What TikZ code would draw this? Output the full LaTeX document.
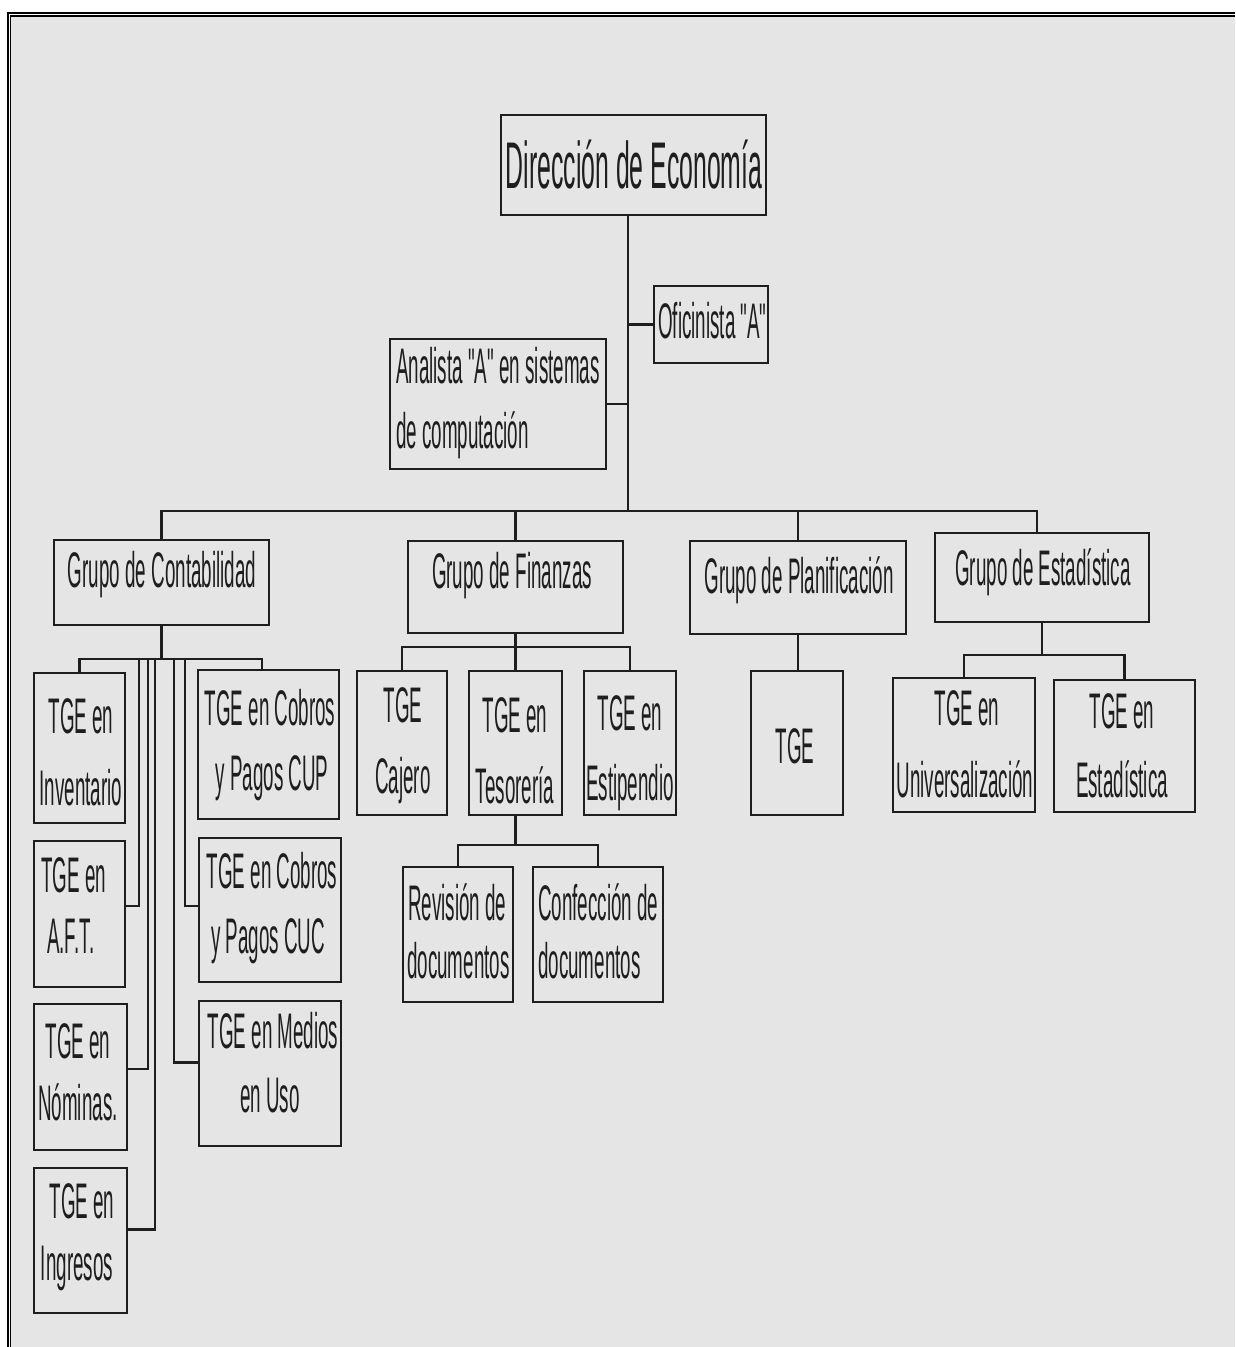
\documentclass[tikz,border=0pt]{standalone}
\usepackage{fontspec}
\setmainfont{Liberation Sans}[FakeStretch=0.376, Ligatures=TeXOff]
\definecolor{bg}{HTML}{E5E5E5}
\definecolor{ink}{HTML}{1E1E1E}
\tikzset{
  box/.style={draw=ink, line width=2.6pt, rectangle, inner sep=0pt, outer sep=0pt},
  conn/.style={draw=ink, line width=2.2pt},
  txt/.style={text=ink, inner sep=0pt, font=\fontsize{50}{50}\selectfont},
  ttl/.style={text=ink, inner sep=0pt, font=\fontsize{66}{66}\selectfont}
}
\newcommand\bx[5]{\node[box, minimum width={(#4)-(#2)}, minimum height={(#5)-(#3)}] (#1) at ({((#2)+(#4))/2},{((#3)+(#5))/2}) {};}
\begin{document}
\begin{tikzpicture}[x=1pt,y=-1pt]
\useasboundingbox (0,0) rectangle (1235,1347);
\fill[white] (0,0) rectangle (1235,1347);
\fill[bg] (11,17) rectangle (1235,1347);
% double frame
\draw[black, line width=2pt] (7.7,1347) -- (7.7,13) -- (1235,13);
\draw[black, line width=1.7pt] (10.5,1347) -- (10.5,16.2) -- (1235,16.2);

% boxes
\bx{dir}{501}{115}{766}{215}
\bx{ofi}{654}{286}{768}{363}
\bx{ana}{390}{339}{606}{469}
\bx{cont}{54}{540}{269}{625}
\bx{fin}{408}{541}{623}{633}
\bx{plan}{690}{541}{906}{634}
\bx{est}{935}{533}{1149}{622}
\bx{inv}{34}{673}{125}{823}
\bx{cup}{198}{670}{339}{819}
\bx{aft}{34}{841}{125}{987}
\bx{cuc}{199}{838}{341}{982}
\bx{nom}{34}{1004}{127}{1150}
\bx{med}{199}{1001}{341}{1146}
\bx{ing}{34}{1168}{127}{1313}
\bx{caj}{357}{671}{447}{815}
\bx{tes}{469}{671}{562}{815}
\bx{estip}{584}{671}{676}{815}
\bx{rev}{403}{867}{513}{1002}
\bx{conf}{533}{867}{663}{1002}
\bx{tge}{751}{671}{843}{815}
\bx{uni}{893}{678}{1035}{812}
\bx{esta}{1054}{680}{1195}{812}

% coordinates for buses
\coordinate (trunk) at (628,511);
\coordinate (bus) at (0,511);
\coordinate (estdrop) at (1037,511);
\coordinate (cbus) at (0,659);
\coordinate (cupdrop) at (262,659);
\coordinate (va) at (139,659);
\coordinate (vn) at (148,659);
\coordinate (vi) at (155,659);
\coordinate (vm) at (174,659);
\coordinate (vc) at (185,659);
\coordinate (fbus) at (0,647);
\coordinate (tbus) at (0,845);
\coordinate (ebus) at (0,655);

% connectors
\draw[conn] (trunk |- dir.south) -- (trunk);
\draw[conn] (ofi.west) -- (ofi.west -| trunk);
\draw[conn] (ana.east) -- (ana.east -| trunk);
\draw[conn] (cont.north) -- (cont.north |- bus) -- (estdrop) -- (estdrop |- est.north);
\draw[conn] (fin.north) -- (fin.north |- bus);
\draw[conn] (plan.north) -- (plan.north |- bus);

\draw[conn] (cont.south) -- (cont.south |- cbus);
\draw[conn] (inv.north) -- (inv.north |- cbus) -- (cupdrop) -- (cupdrop |- cup.north);
\draw[conn] (va) |- ([yshift=8pt]aft.east);
\draw[conn] (vn) |- ([yshift=8pt]nom.east);
\draw[conn] (vi) |- ([yshift=11pt]ing.east);
\draw[conn] (vm) |- ([yshift=11pt]med.west);
\draw[conn] (vc) |- ([yshift=4pt]cuc.west);

\draw[conn] (fin.south) -- (tes.north);
\draw[conn] (caj.north) -- (caj.north |- fbus) -- (estip.north |- fbus) -- (estip.north);
\draw[conn] (tes.south) -- (tes.south |- tbus);
\draw[conn] (rev.north) -- (rev.north |- tbus) -- (conf.north |- tbus) -- (conf.north);

\draw[conn] (plan.south) -- (plan.south |- tge.north);

\draw[conn] (est.south) -- (est.south |- ebus);
\draw[conn] (uni.north) -- (uni.north |- ebus) -- (esta.north |- ebus) -- (esta.north);

% texts
\node[ttl, anchor=base] (dirt) at (634,188) {Dirección de Economía};
\node[txt, anchor=base west] (ofit) at (658,338) {Oficinista "A"};
\node[txt, anchor=base west] (ana1) at (396,383) {Analista "A" en sistemas};
\node[txt, anchor=base west] (ana2) at (396,448) {de computación};
\node[txt, anchor=base] (contt) at (162,587) {Grupo de Contabilidad};
\node[txt, anchor=base] (fint) at (512,588) {Grupo de Finanzas};
\node[txt, anchor=base] (plant) at (799,593) {Grupo de Planificación};
\node[txt, anchor=base] (estt) at (1043,585) {Grupo de Estadística};

\node[txt, anchor=base] (inv1) at (81,733) {TGE en};
\node[txt, anchor=base] (inv2) at (81,805) {Inventario};
\node[txt, anchor=base] (cup1) at (270,725) {TGE en Cobros};
\node[txt, anchor=base] (cup2) at (272,790) {y Pagos CUP};
\node[txt, anchor=base west] (aft1) at (41,892) {TGE en};
\node[txt, anchor=base west] (aft2) at (47,953) {A.F.T.};
\node[txt, anchor=base] (cuc1) at (272,888) {TGE en Cobros};
\node[txt, anchor=base] (cuc2) at (268,953) {y Pagos CUC};
\node[txt, anchor=base] (nom1) at (78,1058) {TGE en};
\node[txt, anchor=base] (nom2) at (78,1120) {Nóminas.};
\node[txt, anchor=base] (med1) at (273,1048) {TGE en Medios};
\node[txt, anchor=base] (med2) at (270,1112) {en Uso};
\node[txt, anchor=base] (ing1) at (82,1218) {TGE en};
\node[txt, anchor=base] (ing2) at (77,1280) {Ingresos};

\node[txt, anchor=base] (caj1) at (403,722) {TGE};
\node[txt, anchor=base] (caj2) at (403,793) {Cajero};
\node[txt, anchor=base] (tes1) at (515,732) {TGE en};
\node[txt, anchor=base] (tes2) at (515,803) {Tesorería};
\node[txt, anchor=base] (estip1) at (630,730) {TGE en};
\node[txt, anchor=base] (estip2) at (630,800) {Estipendio};
\node[txt, anchor=base west] (rev1) at (408,920) {Revisión de};
\node[txt, anchor=base west] (rev2) at (407,978) {documentos};
\node[txt, anchor=base west] (conf1) at (538,920) {Confección de};
\node[txt, anchor=base west] (conf2) at (538,978) {documentos};

\node[txt, anchor=base] (tget) at (795,763) {TGE};
\node[txt, anchor=base] (uni1) at (967,725) {TGE en};
\node[txt, anchor=base] (uni2) at (965,797) {Universalización};
\node[txt, anchor=base] (esta1) at (1122,728) {TGE en};
\node[txt, anchor=base] (esta2) at (1122,797) {Estadística};
\end{tikzpicture}
\end{document}
